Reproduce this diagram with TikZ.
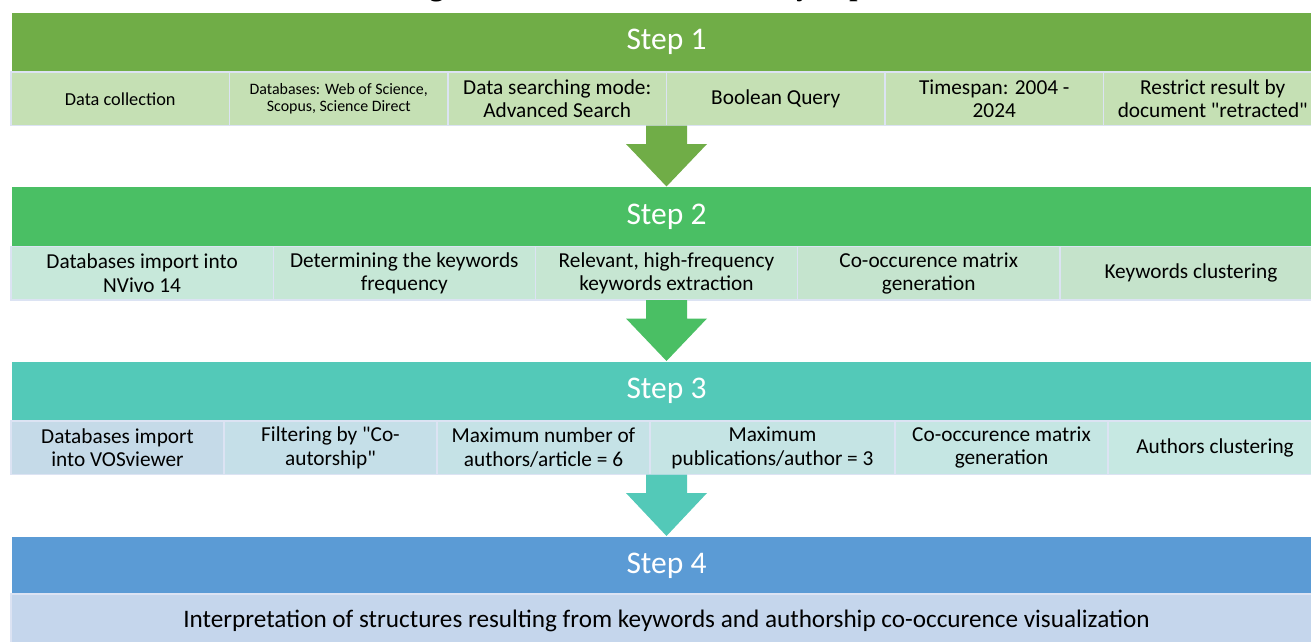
\documentclass[tikz,border=0pt]{standalone}
\usepackage{fontspec}
\setmainfont{Carlito}
\newfontfamily\titlefont{Liberation Serif}
\usetikzlibrary{calc}
\definecolor{g1}{HTML}{70AD47}
\definecolor{g1l}{HTML}{C5E0B4}
\definecolor{g2}{HTML}{4ABF64}
\definecolor{g3}{HTML}{53C9B8}
\definecolor{g4}{HTML}{5B9BD5}
\definecolor{g4l}{HTML}{C5D6EC}
\definecolor{lav}{HTML}{DCE3F3}
\definecolor{sa}{HTML}{C7E8DA}
\definecolor{sb}{HTML}{C6E7D6}
\definecolor{sc}{HTML}{C6E6D2}
\definecolor{sd}{HTML}{C5E4CE}
\definecolor{se}{HTML}{C5E3CB}
\definecolor{ta}{HTML}{C5DAE8}
\definecolor{tb}{HTML}{C5DFE8}
\definecolor{tc}{HTML}{C5E2E6}
\definecolor{td}{HTML}{C5E4E4}
\definecolor{te}{HTML}{C5E6E3}
\definecolor{tf}{HTML}{C6E8E2}
\tikzset{
  hdr/.style={anchor=north west, minimum width=1311, minimum height=60, inner sep=0pt, outer sep=0pt,
    text=white, font=\fontsize{31.5}{34}\selectfont, draw=white, line width=0.6pt},
  rowbg/.style={anchor=north west, minimum width=1311, minimum height=53.5, inner sep=0pt, outer sep=0pt,
    draw=lav, line width=1.2pt},
  cell/.style={anchor=north west, minimum height=53.5, inner sep=0pt, outer sep=0pt, align=center,
    draw=lav, line width=1.4pt, font=\fontsize{21.3}{23.4}\selectfont},
  blockarrow/.style={draw=none}
}
\begin{document}
\begin{tikzpicture}[x=1pt,y=-1pt]
\useasboundingbox (0,0) rectangle (1311,642);
\clip (0,0) rectangle (1311,642);
\fill[white] (0,0) rectangle (1311,642);
% title (cut off at top)
\node[anchor=base, inner sep=0pt, font=\titlefont\bfseries\fontsize{29.4}{30}\selectfont] (title) at (672.5,-4) {Figure 1. The bibliometric analysis process};
% Step 1
\node[hdr, fill=g1] (h1) at (11,12) {Step 1};
\node[rowbg, fill=g1l] (r1) at (11,72) {};
\node[cell, fill=g1l, minimum width=218.5, font=\fontsize{18.3}{22}\selectfont] (c11) at (11,72) {Data collection};
\node[cell, fill=g1l, minimum width=218.5, font=\fontsize{15.9}{17.4}\selectfont] (c12) at (229.5,72) {Databases: Web of Science,\\Scopus, Science Direct};
\node[cell, fill=g1l, minimum width=218.5] (c13) at (448,72) {Data searching mode:\\Advanced Search};
\node[cell, fill=g1l, minimum width=218.5] (c14) at (666.5,72) {Boolean Query};
\node[cell, fill=g1l, minimum width=218.5] (c15) at (885,72) {Timespan: 2004 -\\2024};
\node[cell, fill=g1l, minimum width=218.5] (c16) at (1103.5,72) {Restrict result by\\document \textquotedbl retracted\textquotedbl};
% Step 2
\node[hdr, fill=g2] (h2) at (11,186.5) {Step 2};
\node[rowbg, fill=sa] (r2) at (11,246.5) {};
\node[cell, fill=sa, minimum width=262.2] (c21) at (11,246.5) {Databases import into\\NVivo 14};
\node[cell, fill=sb, minimum width=262.2] (c22) at (273.2,246.5) {Determining the keywords\\frequency};
\node[cell, fill=sc, minimum width=262.2] (c23) at (535.4,246.5) {Relevant, high-frequency\\keywords extraction};
\node[cell, fill=sd, minimum width=262.2] (c24) at (797.6,246.5) {Co-occurence matrix\\generation};
\node[cell, fill=se, minimum width=262.2] (c25) at (1059.8,246.5) {Keywords clustering};
% Step 3
\node[hdr, fill=g3] (h3) at (11,361) {Step 3};
\node[rowbg, fill=ta] (r3) at (11,421) {};
\node[cell, fill=ta, minimum width=213] (c31) at (11,421) {Databases import\\into VOSviewer};
\node[cell, fill=tb, minimum width=213] (c32) at (224,421) {Filtering by \textquotedbl Co-\\autorship\textquotedbl};
\node[cell, fill=tc, minimum width=213] (c33) at (437,421) {Maximum number of\\authors/article = 6};
\node[cell, fill=td, minimum width=245] (c34) at (650,421) {Maximum\\publications/author = 3};
\node[cell, fill=te, minimum width=213] (c35) at (895,421) {Co-occurence matrix\\generation};
\node[cell, fill=tf, minimum width=214] (c36) at (1108,421) {Authors clustering};
% Step 4
\node[hdr, fill=g4] (h4) at (11,536) {Step 4};
\node[rowbg, fill=g4l] (r4) at (11,594) {};
\node[cell, fill=g4l, minimum width=1311, font=\fontsize{25.2}{28}\selectfont] (c41) at (11,594) {Interpretation of structures resulting from keywords and authorship co-occurence visualization};
% block arrows
\foreach \ra/\hb/\col in {r1/h2/g1, r2/h3/g2, r3/h4/g3}{
  \fill[blockarrow, \col] let \p1=(\ra.south), \p2=(\hb.north) in
    (\x1-20.5pt,\y1) -- (\x1+20.5pt,\y1) -- (\x1+20.5pt,\y1-18.5pt) -- (\x1+40.5pt,\y1-18.5pt)
    -- (\x2,\y2) -- (\x1-40.5pt,\y1-18.5pt) -- (\x1-20.5pt,\y1-18.5pt) -- cycle;
}
\end{tikzpicture}
\end{document}
